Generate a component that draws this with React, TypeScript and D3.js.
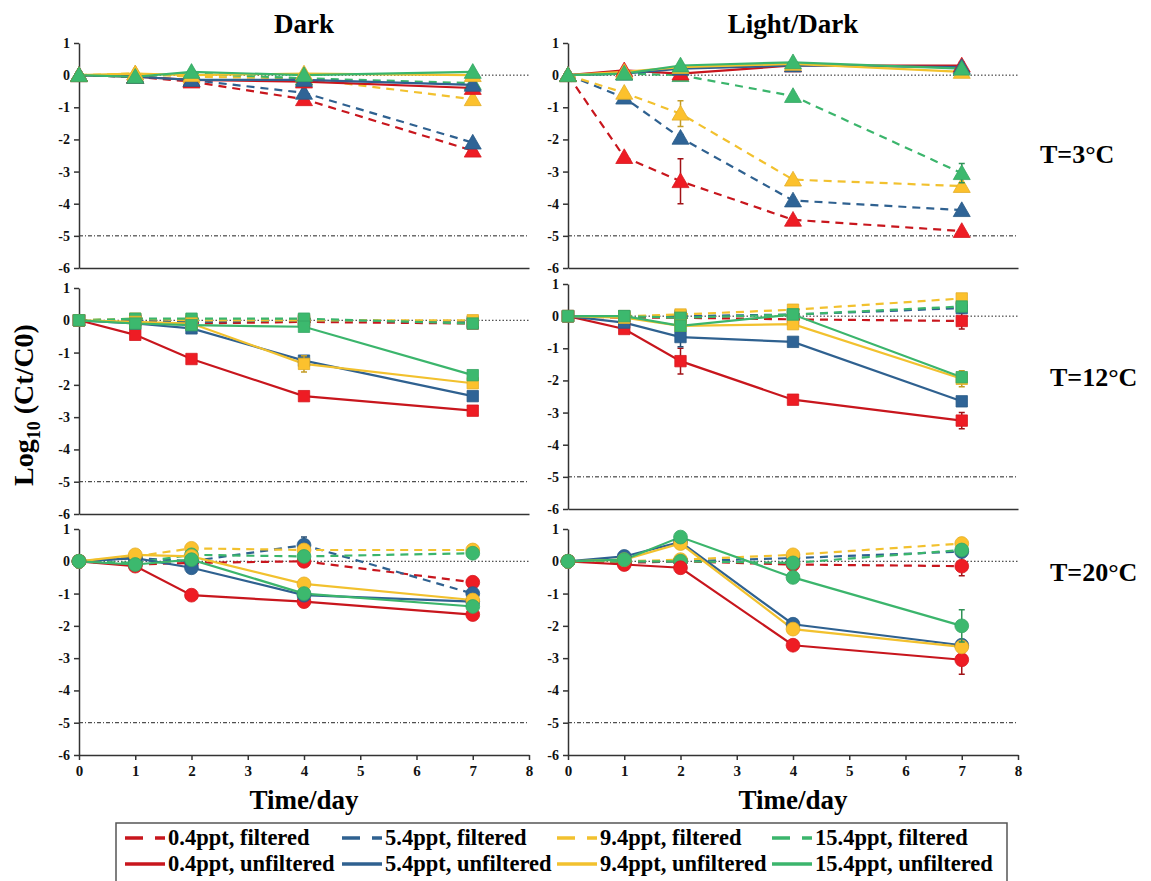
import React, { useEffect, useRef } from "react";
import * as d3 from "d3";

// sampling days
const days = [0, 1, 2, 4, 7];
const salinities = ["0.4ppt", "5.4ppt", "9.4ppt", "15.4ppt"];
const lineColors = ["#c8161d", "#2f6190", "#f2c12e", "#3bb56c"];
const markerColors = ["#ee1c24", "#2f6496", "#fcc12d", "#3cb96e"];
const yTicks = [-6, -5, -4, -3, -2, -1, 0, 1];
const xTicks = [0, 1, 2, 3, 4, 5, 6, 7, 8];
const columnTitles = ["Dark", "Light/Dark"];
const rowTitles = ["T=3\u00b0C", "T=12\u00b0C", "T=20\u00b0C"];

// one row per salinity: 0.4, 5.4, 9.4, 15.4 ppt
const dark3Filtered = [
  [0, -0.05, -0.2, -0.75, -2.35],
  [0, -0.05, -0.15, -0.55, -2.1],
  [0, 0.05, -0.05, -0.1, -0.75],
  [0, -0.05, 0.05, -0.1, -0.25],
];
const dark3Unfiltered = [
  [0, -0.05, -0.15, -0.2, -0.4],
  [0, -0.05, -0.15, -0.15, -0.3],
  [0, 0.05, 0, 0.05, 0],
  [0, -0.05, 0.1, 0, 0.1],
];
const light3Filtered = [
  [0, -2.55, -3.3, -4.5, -4.85],
  [0, -0.7, -1.95, -3.9, -4.2],
  [0, -0.55, -1.2, -3.25, -3.45],
  [0, 0.05, 0, -0.65, -3.05],
];
const light3Unfiltered = [
  [0, 0.15, 0.05, 0.3, 0.3],
  [0, 0.05, 0.2, 0.3, 0.25],
  [0, 0.1, 0.25, 0.35, 0.1],
  [0, 0.05, 0.3, 0.4, 0.2],
];
const dark12Filtered = [
  [0, 0, -0.1, -0.05, -0.1],
  [0, 0, -0.05, 0, -0.05],
  [0, 0.05, 0, 0, 0],
  [0, 0.05, 0.05, 0.05, -0.1],
];
const dark12Unfiltered = [
  [0, -0.45, -1.2, -2.35, -2.8],
  [0, -0.1, -0.25, -1.25, -2.35],
  [0, -0.05, -0.1, -1.35, -1.95],
  [0, -0.1, -0.15, -0.2, -1.7],
];
const light12Filtered = [
  [0, -0.05, -0.05, -0.1, -0.15],
  [0, 0, 0, 0.05, 0.25],
  [0, 0, 0.05, 0.2, 0.55],
  [0, 0, -0.05, 0.05, 0.3],
];
const light12Unfiltered = [
  [0, -0.4, -1.4, -2.6, -3.25],
  [0, -0.2, -0.65, -0.8, -2.65],
  [0, -0.05, -0.3, -0.25, -1.95],
  [0, 0, -0.3, 0.05, -1.9],
];
const dark20Filtered = [
  [0, -0.1, -0.05, 0, -0.65],
  [0, 0.1, 0, 0.5, -1.0],
  [0, 0.15, 0.4, 0.35, 0.35],
  [0, -0.05, 0.2, 0.15, 0.25],
];
const dark20Unfiltered = [
  [0, -0.15, -1.05, -1.25, -1.65],
  [0, 0.1, -0.2, -1.05, -1.25],
  [0, 0.2, 0.15, -0.7, -1.2],
  [0, -0.1, 0.05, -1.0, -1.4],
];
const light20Filtered = [
  [0, -0.05, 0, -0.1, -0.15],
  [0, 0, 0, 0.1, 0.3],
  [0, 0, 0.05, 0.2, 0.55],
  [0, 0, 0, -0.05, 0.35],
];
const light20Unfiltered = [
  [0, -0.1, -0.2, -2.6, -3.05],
  [0, 0.15, 0.6, -1.95, -2.6],
  [0, 0.05, 0.55, -2.1, -2.65],
  [0, 0.05, 0.75, -0.5, -2.0],
];

// standard errors (only where visible)
const dark3FilteredErr = [
  [0, 0, 0.05, 0.1, 0.05],
  [0, 0, 0.05, 0.1, 0.05],
  [0, 0, 0, 0, 0],
  [0, 0, 0, 0, 0],
];
const dark3UnfilteredErr = [
  [0, 0, 0, 0, 0.05],
  [0, 0, 0, 0.05, 0.05],
  [0, 0, 0, 0, 0],
  [0, 0, 0, 0, 0],
];
const light3FilteredErr = [
  [0, 0.05, 0.7, 0.05, 0.05],
  [0, 0.1, 0.1, 0.05, 0.05],
  [0, 0.05, 0.4, 0.05, 0.05],
  [0, 0, 0, 0.05, 0.3],
];
const light3UnfilteredErr = [
  [0, 0, 0, 0.15, 0.1],
  [0, 0, 0, 0, 0],
  [0, 0, 0, 0, 0],
  [0, 0, 0, 0, 0],
];
const dark12FilteredErr = [
  [0, 0, 0, 0, 0.05],
  [0, 0, 0, 0, 0],
  [0, 0, 0, 0, 0],
  [0, 0, 0, 0, 0],
];
const dark12UnfilteredErr = [
  [0, 0, 0.1, 0, 0],
  [0, 0, 0.05, 0.1, 0],
  [0, 0, 0, 0.25, 0.05],
  [0, 0, 0, 0, 0],
];
const light12FilteredErr = [
  [0, 0, 0, 0, 0.25],
  [0, 0, 0, 0, 0],
  [0, 0, 0.1, 0, 0],
  [0, 0, 0, 0, 0],
];
const light12UnfilteredErr = [
  [0, 0, 0.4, 0, 0.25],
  [0, 0, 0.3, 0, 0],
  [0, 0, 0, 0, 0.25],
  [0, 0, 0, 0, 0.1],
];
const dark20FilteredErr = [
  [0, 0, 0, 0, 0],
  [0, 0, 0, 0.25, 0],
  [0, 0, 0, 0, 0],
  [0, 0, 0, 0, 0.1],
];
const dark20UnfilteredErr = [
  [0, 0, 0, 0, 0],
  [0, 0, 0, 0, 0],
  [0, 0, 0, 0.1, 0.1],
  [0, 0, 0, 0, 0.1],
];
const light20FilteredErr = [
  [0, 0, 0, 0, 0.3],
  [0, 0, 0, 0, 0],
  [0, 0, 0, 0, 0],
  [0, 0, 0, 0, 0],
];
const light20UnfilteredErr = [
  [0, 0, 0, 0, 0.45],
  [0, 0, 0, 0, 0.15],
  [0, 0, 0, 0, 0],
  [0, 0, 0, 0, 0.5],
];

const panels = [
  { col: 0, row: 0, f: dark3Filtered, u: dark3Unfiltered, fe: dark3FilteredErr, ue: dark3UnfilteredErr, top: 43, bottom: 268 },
  { col: 1, row: 0, f: light3Filtered, u: light3Unfiltered, fe: light3FilteredErr, ue: light3UnfilteredErr, top: 43, bottom: 268 },
  { col: 0, row: 1, f: dark12Filtered, u: dark12Unfiltered, fe: dark12FilteredErr, ue: dark12UnfilteredErr, top: 288, bottom: 514 },
  { col: 1, row: 1, f: light12Filtered, u: light12Unfiltered, fe: light12FilteredErr, ue: light12UnfilteredErr, top: 284, bottom: 509 },
  { col: 0, row: 2, f: dark20Filtered, u: dark20Unfiltered, fe: dark20FilteredErr, ue: dark20UnfilteredErr, top: 529, bottom: 755 },
  { col: 1, row: 2, f: light20Filtered, u: light20Unfiltered, fe: light20FilteredErr, ue: light20UnfilteredErr, top: 529, bottom: 755 },
];

const colX = [
  [79, 529],
  [568, 1018],
];
const symbols = [d3.symbolTriangle, d3.symbolSquare, d3.symbolCircle];
const symbolSizes = [125, 130, 150];
const font = "'Liberation Serif', 'Times New Roman', serif";

export default function App() {
  const ref = useRef<SVGSVGElement>(null);

  useEffect(() => {
    const svg = d3.select(ref.current);
    svg.selectAll("*").remove();

    panels.forEach((p) => {
      const [x0, x1] = colX[p.col];
      const x = d3.scaleLinear().domain([0, 8]).range([x0, x1]);
      const y = d3.scaleLinear().domain([-6, 1]).range([p.bottom, p.top]);
      const g = svg.append("g");
      const isBottom = p.row === 2;

      // reference lines
      g.append("line")
        .attr("x1", x(0))
        .attr("x2", x(8))
        .attr("y1", y(0))
        .attr("y2", y(0))
        .attr("stroke", "#222")
        .attr("stroke-width", 1)
        .attr("stroke-dasharray", "1.5,2");
      g.append("line")
        .attr("x1", x(0))
        .attr("x2", x(8))
        .attr("y1", y(-5))
        .attr("y2", y(-5))
        .attr("stroke", "#222")
        .attr("stroke-width", 1)
        .attr("stroke-dasharray", "4,2,1,2");

      const yAxis = g
        .append("g")
        .attr("transform", `translate(${x0},0)`)
        .call(
          d3
            .axisLeft(y)
            .tickValues(yTicks)
            .tickSize(5)
            .tickSizeOuter(0)
            .tickPadding(4)
            .tickFormat((d) => String(d))
        );
      yAxis.selectAll("path, line").attr("stroke", "#333").attr("stroke-width", 1.5);
      yAxis
        .selectAll("text")
        .style("font-family", font)
        .style("font-weight", "bold")
        .style("font-size", "14px")
        .attr("fill", "#111");

      const xAxis = g
        .append("g")
        .attr("transform", `translate(0,${p.bottom})`)
        .call(
          d3
            .axisBottom(x)
            .tickValues(isBottom ? xTicks : [])
            .tickSize(5)
            .tickSizeOuter(0)
            .tickPadding(5)
            .tickFormat((d) => String(d))
        );
      xAxis.selectAll("path, line").attr("stroke", "#333").attr("stroke-width", 1.5);
      xAxis
        .selectAll("text")
        .style("font-family", font)
        .style("font-weight", "bold")
        .style("font-size", "15px")
        .attr("fill", "#111");

      const line = d3
        .line<number>()
        .x((_, i) => x(days[i]))
        .y((d) => y(d));

      const drawGroup = (vals: number[][], errs: number[][], dashed: boolean) => {
        vals.forEach((v, s) => {
          g.append("path")
            .attr("d", line(v))
            .attr("fill", "none")
            .attr("stroke", lineColors[s])
            .attr("stroke-width", 2.2)
            .attr("stroke-dasharray", dashed ? "8,6" : null);
        });
        vals.forEach((v, s) => {
          v.forEach((val, i) => {
            const e = errs[s][i];
            if (!e) return;
            const cx = x(days[i]);
            g.append("path")
              .attr(
                "d",
                `M${cx},${y(val - e)}V${y(val + e)}M${cx - 3},${y(val - e)}H${cx + 3}M${cx - 3},${y(val + e)}H${cx + 3}`
              )
              .attr("stroke", d3.color(lineColors[s])!.darker(0.6).toString())
              .attr("stroke-width", 1.5)
              .attr("fill", "none");
          });
          g.selectAll(null)
            .data(v)
            .join("path")
            .attr("transform", (d, i) => `translate(${x(days[i])},${y(d) + (p.row === 0 ? 1.5 : 0)})`)
            .attr("d", d3.symbol(symbols[p.row], symbolSizes[p.row])())
            .attr("fill", markerColors[s])
            .attr("stroke", d3.color(markerColors[s])!.darker(0.3).toString())
            .attr("stroke-width", 0.8);
        });
      };

      drawGroup(p.f, p.fe, true);
      drawGroup(p.u, p.ue, false);
    });

    // column titles and x labels
    colX.forEach(([x0, x1], c) => {
      const cx = (x0 + x1) / 2;
      svg
        .append("text")
        .attr("x", cx)
        .attr("y", 33)
        .attr("text-anchor", "middle")
        .style("font-family", font)
        .style("font-weight", "bold")
        .style("font-size", "27px")
        .text(columnTitles[c]);
      svg
        .append("text")
        .attr("x", cx)
        .attr("y", 809)
        .attr("text-anchor", "middle")
        .style("font-family", font)
        .style("font-weight", "bold")
        .style("font-size", "27px")
        .text("Time/day");
    });

    // row titles
    const rowY = [163, 386, 581];
    rowTitles.forEach((t, r) => {
      svg
        .append("text")
        .attr("x", r === 0 ? 1040 : 1050)
        .attr("y", rowY[r])
        .style("font-family", font)
        .style("font-weight", "bold")
        .style("font-size", "26px")
        .text(t);
    });

    // y label
    const yl = svg
      .append("text")
      .attr("transform", "translate(33,405) rotate(-90)")
      .attr("text-anchor", "middle")
      .style("font-family", font)
      .style("font-weight", "bold")
      .style("font-size", "28px");
    yl.append("tspan").text("Log");
    yl.append("tspan").attr("dy", 7).style("font-size", "18px").text("10");
    yl.append("tspan").attr("dy", -7).text(" (Ct/C0)");

    // legend
    svg
      .append("rect")
      .attr("x", 116)
      .attr("y", 823)
      .attr("width", 891)
      .attr("height", 70)
      .attr("fill", "white")
      .attr("stroke", "#555")
      .attr("stroke-width", 1.5);
    const legX = [125, 342, 557, 772];
    const legY = [838, 864];
    salinities.forEach((s, i) => {
      [0, 1].forEach((r) => {
        svg
          .append("line")
          .attr("x1", legX[i])
          .attr("x2", legX[i] + 40)
          .attr("y1", legY[r])
          .attr("y2", legY[r])
          .attr("stroke", lineColors[i])
          .attr("stroke-width", 3.5)
          .attr("stroke-dasharray", r === 0 ? "18,12,10" : null);
        svg
          .append("text")
          .attr("x", legX[i] + 43)
          .attr("y", legY[r] + 7)
          .style("font-family", font)
          .style("font-weight", "bold")
          .style("font-size", "22.5px")
          .text(`${s}, ${r === 0 ? "filtered" : "unfiltered"}`);
      });
    });
  }, []);

  return (
    <svg
      ref={ref}
      width={1151}
      height={881}
      style={{ position: "absolute", left: 0, top: 0, background: "white" }}
    />
  );
}
